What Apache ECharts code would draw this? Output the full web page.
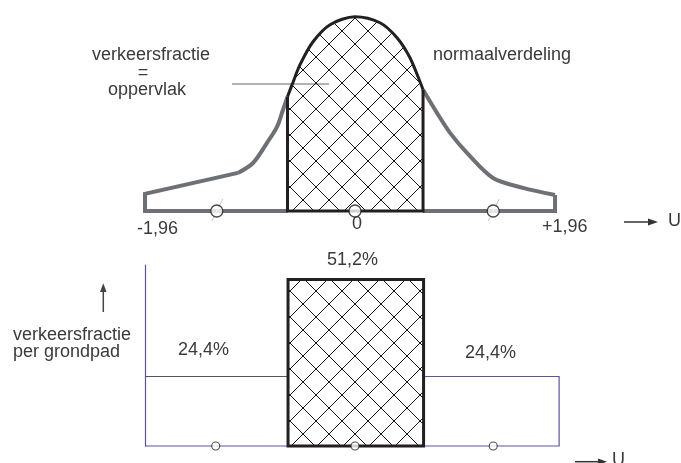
<!DOCTYPE html>
<html>
<head>
<meta charset="utf-8">
<script src="https://cdn.jsdelivr.net/npm/echarts@6/dist/echarts.min.js"></script>
<style>
html,body{margin:0;padding:0;background:#fff;}
#chart{width:681px;height:463px;}
</style>
</head>
<body>
<div id="chart"></div>
<script>
// ---------- data (U = standardised position, h = relative height of the drawn curve) ----------
const leftTailPts   = [[-1.092, 0.196], [-1.96, 0.088], [-1.96, 0], [-0.63, 0]];
const rightTailPts  = [[0.635, 0], [1.867, 0], [1.867, 0.082]];
const leftFlankPts  = [[-1.092, 0.196], [-0.952, 0.247], [-0.821, 0.351], [-0.728, 0.433], [-0.672, 0.521], [-0.63, 0.588]];
const rightFlankPts = [[0.635, 0.624], [0.765, 0.505], [0.887, 0.402], [1.045, 0.299], [1.288, 0.170], [1.568, 0.119], [1.867, 0.082]];
const centralArcPts = [[-0.63, 0.588], [-0.588, 0.649], [-0.513, 0.753], [-0.392, 0.871], [-0.233, 0.959], [0, 1.0], [0.233, 0.969], [0.392, 0.892], [0.513, 0.789], [0.607, 0.665], [0.635, 0.624]];
const centralEdgePts = [[-0.63, 0.588], [-0.63, 0], [0.635, 0], [0.635, 0.624]];
const topMarkerU = [-1.29, 0, 1.29];
const sideMarkerU = [-1.29, 1.29];
const tickLabels = ['-1,96', '0', '+1,96'];

const pathEdges  = [-1.96, -0.625, 0.64, 1.905];   // grondpad boundaries (U)
const pathShares = [24.4, 51.2, 24.4];            // verkeersfractie per grondpad (%)
const shareLabels = ['24,4%', '51,2%', '24,4%'];
const bottomMarkerU = [-1.3, 0, 1.29];
const shareAxisMin = 5.2;

// ---------- styling helpers ----------
const FONT = '18px "Liberation Sans", Arial, sans-serif';
const TXT = '#3a3a3a';
const GRAY = '#6d7175';
const BLACK = '#231f20';
const PURPLE = '#5b52a8';

function makeHatch(P, ox, oy, color, lw) {
  const c = document.createElement('canvas');
  c.width = P; c.height = P;
  const ctx = c.getContext('2d');
  ctx.strokeStyle = color; ctx.lineWidth = lw;
  const c1 = ((ox - oy) % P + P) % P;
  const c2 = ((ox + oy) % P + P) % P;
  ctx.beginPath();
  for (let k = -3; k <= 3; k++) {
    const a = c1 + k * P;
    ctx.moveTo(-P, -P - a); ctx.lineTo(2 * P, 2 * P - a);
    const b = c2 + k * P;
    ctx.moveTo(-P, b + P); ctx.lineTo(2 * P, b - 2 * P);
  }
  ctx.stroke();
  return c;
}
const hatch = { image: makeHatch(26, 355, 18, '#151515', 1), repeat: 'repeat' };

function lineSeries(data, color, width, smooth, gi, extra) {
  return Object.assign({
    type: 'line', data: data, xAxisIndex: gi, yAxisIndex: gi,
    showSymbol: false, symbol: 'none', smooth: smooth ? 0.3 : false,
    clip: false, silent: true,
    lineStyle: { color: color, width: width, cap: 'butt', join: 'miter' },
    z: 3
  }, extra || {});
}

function text(t, x, y, align) {
  return { type: 'text', x: x, y: y, silent: true,
    style: { text: t, font: FONT, fill: TXT, textAlign: align || 'left', textVerticalAlign: 'middle', verticalAlign: 'middle' } };
}

const chart = echarts.init(document.getElementById('chart'), null, { renderer: 'canvas' });

const hiddenX = (gi) => ({ type: 'value', gridIndex: gi, min: -1.96, max: 1.96, show: false });

const barData = [[pathEdges[1], pathEdges[2], pathShares[1]]];

const option = {
  animation: false,
  backgroundColor: '#fff',
  grid: [
    { left: 145, right: 116, top: 16.7, bottom: 252 },
    { left: 145, right: 116, top: 265, bottom: 17 }
  ],
  xAxis: [hiddenX(0), hiddenX(1)],
  yAxis: [
    { type: 'value', gridIndex: 0, min: 0, max: 1, show: false },
    { type: 'value', gridIndex: 1, min: shareAxisMin, max: 55.2, show: true,
      axisLine: { show: true, onZero: false, lineStyle: { color: PURPLE, width: 1.2 } },
      axisTick: { show: false }, axisLabel: { show: false }, splitLine: { show: false } }
  ],
  series: [
    lineSeries(leftTailPts, GRAY, 4, false, 0),
    lineSeries(rightTailPts, GRAY, 4, false, 0),
    lineSeries(leftFlankPts, GRAY, 4, true, 0),
    lineSeries(rightFlankPts, GRAY, 4, true, 0),
    lineSeries(centralArcPts, BLACK, 3, true, 0, { areaStyle: { color: hatch, opacity: 1, origin: 'start' }, z: 4 }),
    lineSeries(centralEdgePts, BLACK, 3, false, 0, { z: 5 }),
    {
      // faint construction strokes through the side markers
      type: 'custom', xAxisIndex: 0, yAxisIndex: 0, silent: true, clip: false, z: 9,
      data: sideMarkerU.map(u => [u, 0]),
      renderItem: function (params, api) {
        const p = api.coord([api.value(0), api.value(1)]);
        return { type: 'line', shape: { x1: p[0] - 5, y1: p[1] + 10, x2: p[0] + 6, y2: p[1] - 12 },
          style: { stroke: '#c8c8c8', lineWidth: 1 } };
      }
    },
    {
      type: 'scatter', xAxisIndex: 0, yAxisIndex: 0, silent: true, clip: false,
      data: topMarkerU.map(u => [u, 0]), symbol: 'circle', symbolSize: 12,
      itemStyle: { color: '#fff', borderColor: '#1a1a1a', borderWidth: 1.3 }, z: 10
    },
    // bottom chart
    lineSeries([[pathEdges[2], pathShares[2]], [pathEdges[3], pathShares[2]], [pathEdges[3], shareAxisMin], [pathEdges[0], shareAxisMin]], PURPLE, 1.2, false, 1),
    lineSeries([[pathEdges[0], pathShares[0]], [pathEdges[1], pathShares[0]]], '#555', 1.2, false, 1),
    {
      type: 'custom', xAxisIndex: 1, yAxisIndex: 1, silent: true, clip: false, z: 6,
      data: barData,
      renderItem: function (params, api) {
        const p0 = api.coord([api.value(0), shareAxisMin]);
        const p1 = api.coord([api.value(1), api.value(2)]);
        return {
          type: 'rect',
          shape: { x: p0[0], y: p1[1], width: p1[0] - p0[0], height: p0[1] - p1[1] },
          style: { fill: hatch, stroke: BLACK, lineWidth: 3 }
        };
      }
    },
    {
      type: 'scatter', xAxisIndex: 1, yAxisIndex: 1, silent: true, clip: false,
      data: bottomMarkerU.map(u => [u, shareAxisMin]), symbol: 'circle', symbolSize: 8,
      itemStyle: { color: '#fff', borderColor: '#222', borderWidth: 1.1 }, z: 10
    }
  ],
  graphic: [
    text('verkeersfractie', 151, 55.5, 'center'),
    text('=', 143, 73.5, 'center'),
    text('oppervlak', 147, 90.5, 'center'),
    { type: 'line', silent: true, shape: { x1: 232, y1: 84, x2: 329, y2: 84 }, style: { stroke: '#666', lineWidth: 1.2 } },
    text('normaalverdeling', 433, 55.5, 'left'),
    text(tickLabels[0], 137, 228.7, 'left'),
    text(tickLabels[1], 357, 223.7, 'center'),
    text(tickLabels[2], 542, 226.7, 'left'),
    { type: 'line', silent: true, shape: { x1: 624, y1: 222, x2: 650, y2: 222 }, style: { stroke: '#333', lineWidth: 1.5 } },
    { type: 'polygon', silent: true, shape: { points: [[658, 222], [648, 218.5], [648, 225.5]] }, style: { fill: '#333' } },
    text('U', 668, 220.7, 'left'),
    text(shareLabels[1], 327, 259.7, 'left'),
    text(shareLabels[0], 178, 350.4, 'left'),
    text(shareLabels[2], 465, 352.7, 'left'),
    text('verkeersfractie', 13, 335.4, 'left'),
    text('per grondpad', 13, 352, 'left'),
    { type: 'line', silent: true, shape: { x1: 103.3, y1: 312, x2: 103.3, y2: 291 }, style: { stroke: '#444', lineWidth: 1.5 } },
    { type: 'polygon', silent: true, shape: { points: [[103.3, 283.3], [100, 292], [106.6, 292]] }, style: { fill: '#444' } },
    { type: 'line', silent: true, shape: { x1: 575, y1: 461.7, x2: 600, y2: 461.7 }, style: { stroke: '#333', lineWidth: 1.5 } },
    { type: 'polygon', silent: true, shape: { points: [[607, 461.7], [598, 458.5], [598, 465]] }, style: { fill: '#333' } },
    text('U', 612, 459.7, 'left')
  ]
};
chart.setOption(option);
</script>
</body>
</html>
